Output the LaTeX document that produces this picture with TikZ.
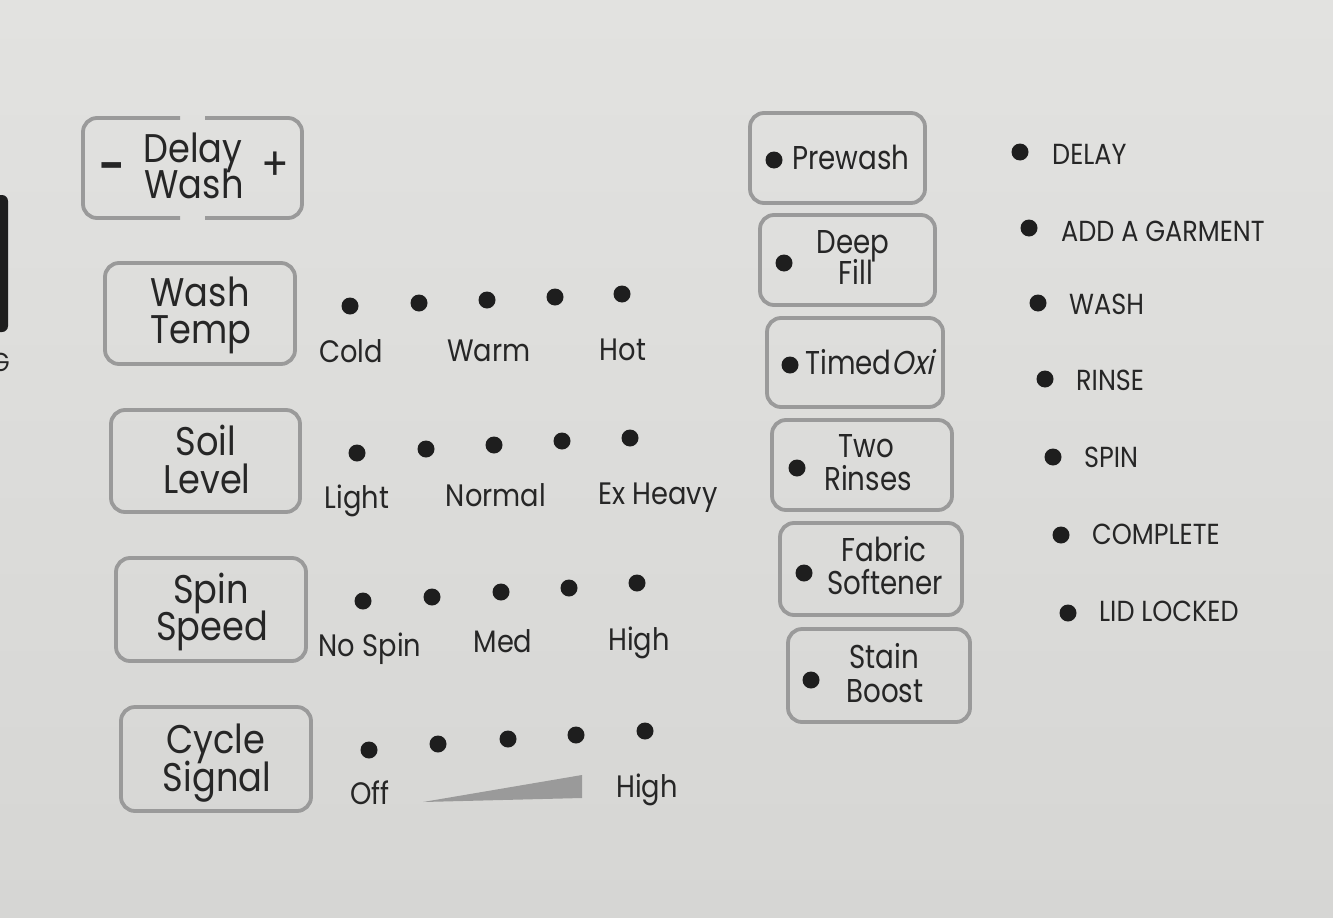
\documentclass[tikz,border=0pt]{standalone}
\usepackage{fontspec}
\setmainfont{Poppins}[FakeStretch=0.88]
\newfontfamily\rfont{Poppins}[FakeStretch=0.84]
\newfontfamily\oxifont{Poppins}[FakeStretch=0.84,FakeSlant=0.22]
\definecolor{bgtop}{HTML}{E2E2E0}
\definecolor{bgbot}{HTML}{D6D6D4}
\definecolor{btngray}{HTML}{9A9A9A}
\definecolor{txt}{HTML}{262626}
\definecolor{ledblack}{HTML}{1E1E1E}
\definecolor{wedge}{HTML}{9A9A9A}
\tikzset{
  btn/.style={draw=btngray, line width=3.8pt, rounded corners=14pt},
  led/.style={circle, fill=ledblack, inner sep=0pt, minimum size=17pt},
  btxt/.style={text=txt, inner sep=0pt, text height=27pt, text depth=0pt, anchor=center, font=\fontsize{40}{44}\selectfont},
  rtxt/.style={text=txt, inner sep=0pt, text height=22pt, text depth=0pt, anchor=center, font=\rfont\fontsize{33}{36}\selectfont},
  lbl/.style={text=txt, inner sep=0pt, text height=22pt, text depth=0pt, anchor=center, font=\fontsize{31}{34}\selectfont},
  stat/.style={text=txt, inner sep=0pt, text height=20pt, text depth=0pt, anchor=west, font=\fontsize{29}{32}\selectfont},
}
\begin{document}
\begin{tikzpicture}[x=1pt,y=-1pt]
\useasboundingbox (0,0) rectangle (1333,918);
\shade[top color=bgtop, bottom color=bgbot] (0,0) rectangle (1333,918);

% left edge fragments
\fill[ledblack, rounded corners=6pt] (-12,195) rectangle (8,332);
\node[text=txt, inner sep=0pt, anchor=east, font=\fontsize{26}{28}\selectfont] (gfrag) at (10,362) {G};

% Delay Wash button (split outline)
\draw[btn] (180,118) -- (83,118) -- (83,218) -- (180,218);
\draw[btn] (205,118) -- (302,118) -- (302,218) -- (205,218);
\node[btxt] (dw1) at (193,149) {Delay};
\node[btxt] (dw2) at (194,185) {Wash};
\node[btxt, font=\fontsize{40}{40}\selectfont\bfseries] (minus) at (112,166) {–};
\node[btxt, text height=26pt, font=\fontsize{46}{46}\selectfont] (plus) at (275,167) {+};

% Wash Temp
\draw[btn] (105,263) rectangle (295,364);
\node[btxt] (wt1) at (200,293) {Wash};
\node[btxt] (wt2) at (201,330) {Temp};
\foreach \x/\y [count=\i] in {350/306,419/303,487/300,555/297,622/294}
  \node[led] (wtl\i) at (\x,\y) {};
\node[lbl] (cold) at (351,351) {Cold};
\node[lbl] (warm) at (489,350) {Warm};
\node[lbl] (hot) at (623,349) {Hot};

% Soil Level
\draw[btn] (111,410) rectangle (300,512);
\node[btxt] (sl1) at (206,442) {Soil};
\node[btxt] (sl2) at (207,480) {Level};
\foreach \x/\y [count=\i] in {357/453,426/449,494/445,562/441,630/438}
  \node[led] (sll\i) at (\x,\y) {};
\node[lbl] (light) at (357,497) {Light};
\node[lbl] (normal) at (496,495) {Normal};
\node[lbl] (exheavy) at (658,493) {Ex Heavy};

% Spin Speed
\draw[btn] (116,558) rectangle (306,661);
\node[btxt] (ss1) at (211,590) {Spin};
\node[btxt] (ss2) at (212,627) {Speed};
\foreach \x/\y [count=\i] in {363/601,432/597,501/592,569/588,637/583}
  \node[led] (ssl\i) at (\x,\y) {};
\node[lbl] (nospin) at (370,645) {No Spin};
\node[lbl] (med) at (503,641) {Med};
\node[lbl] (highs) at (639,639) {High};

% Cycle Signal
\draw[btn] (121,707) rectangle (311,811);
\node[btxt] (cs1) at (216,740) {Cycle};
\node[btxt] (cs2) at (217,778) {Signal};
\foreach \x/\y [count=\i] in {369/750,438/744,508/739,576/735,645/731}
  \node[led] (csl\i) at (\x,\y) {};
\node[lbl] (off) at (370,793) {Off};
\node[lbl] (highc) at (647,786) {High};
\fill[wedge] (423,802) -- (582,775) -- (582,798) -- cycle;

% Option buttons
\draw[btn] (750,113) rectangle (925,203);
\node[led] (pwl) at (774,160) {};
\node[rtxt, anchor=west] (pw) at (792,158) {Prewash};

\draw[btn] (760,215) rectangle (935,305);
\node[led] (dfl) at (784,263) {};
\node[rtxt] (df1) at (853,242) {Deep};
\node[rtxt] (df2) at (856,273) {Fill};

\draw[btn] (767,318) rectangle (943,407);
\node[led] (tol) at (790,365) {};
\node[rtxt, anchor=west] (to) at (805,363) {Timed{\oxifont Oxi}};

\draw[btn] (772,420) rectangle (952,510);
\node[led] (trl) at (797,468) {};
\node[rtxt] (tr1) at (866,446) {Two};
\node[rtxt] (tr2) at (868,479) {Rinses};

\draw[btn] (780,523) rectangle (962,615);
\node[led] (fsl) at (804,573) {};
\node[rtxt] (fs1) at (884,550) {Fabric};
\node[rtxt] (fs2) at (885,583) {Softener};

\draw[btn] (788,629) rectangle (970,722);
\node[led] (sbl) at (811,680) {};
\node[rtxt] (sb1) at (884,657) {Stain};
\node[rtxt] (sb2) at (885,691) {Boost};

% Status indicators
\node[led] (std1) at (1020,152) {};
\node[stat] (st1) at (1052,154) {DELAY};
\node[led] (std2) at (1029,228) {};
\node[stat] (st2) at (1061,231) {ADD A GARMENT};
\node[led] (std3) at (1038,303) {};
\node[stat] (st3) at (1069,304) {WASH};
\node[led] (std4) at (1045,379) {};
\node[stat] (st4) at (1076,380) {RINSE};
\node[led] (std5) at (1053,457) {};
\node[stat] (st5) at (1084,457) {SPIN};
\node[led] (std6) at (1061,535) {};
\node[stat] (st6) at (1092,534) {COMPLETE};
\node[led] (std7) at (1068,613) {};
\node[stat] (st7) at (1099,611) {LID LOCKED};
\end{tikzpicture}
\end{document}
